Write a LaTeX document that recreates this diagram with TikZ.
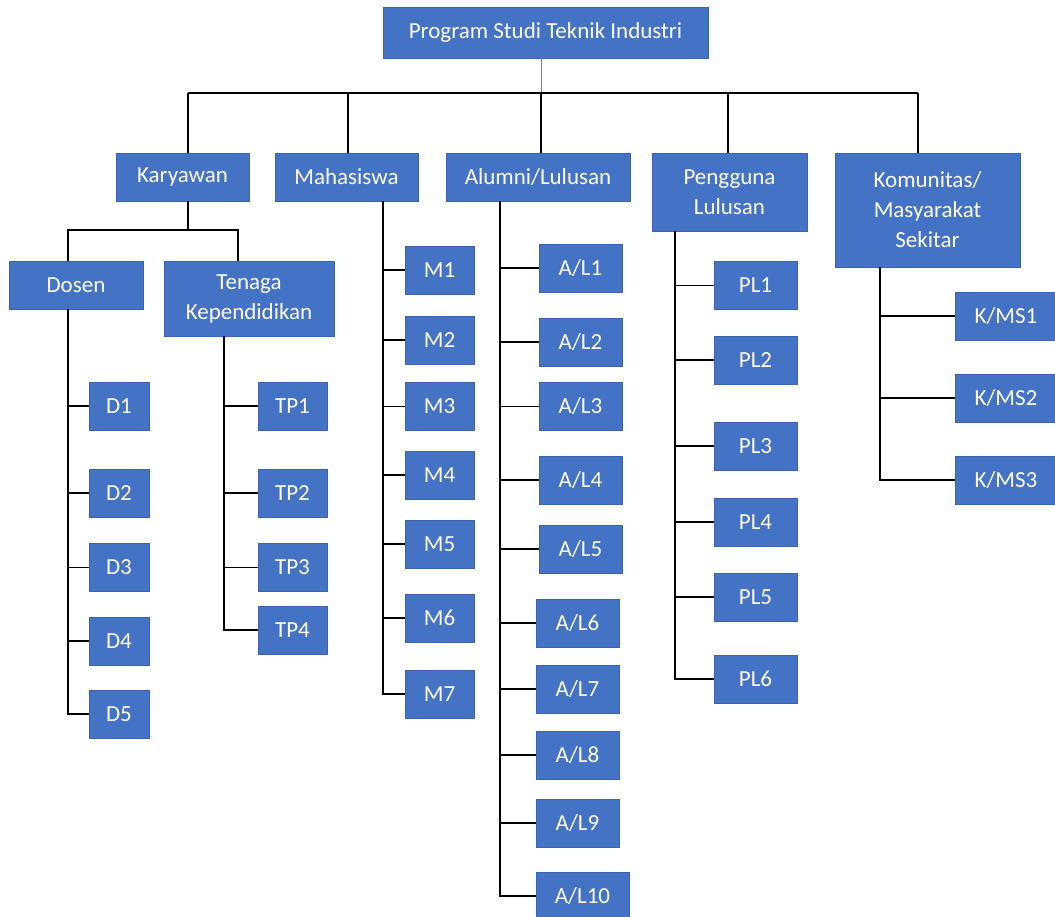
\documentclass[tikz,border=0pt]{standalone}
\usepackage{fontspec}
\setmainfont{Carlito}
\definecolor{boxblue}{HTML}{4472C4}
\definecolor{boxedge}{HTML}{3A64AE}
\definecolor{toplinec}{HTML}{5B8BD0}
\begin{document}
\begin{tikzpicture}[x=1pt,y=-1pt,
  box/.style={draw=boxedge, fill=boxblue, text=white, line width=0.8pt, inner sep=0pt,
    align=center, font=\fontsize{23}{30}\selectfont},
  sm/.style={box, minimum width=#1, minimum height=48pt},
  conn/.style={draw=black, line width=1.5pt},
  topconn/.style={draw=toplinec, line width=1pt}]
\useasboundingbox (0,0) rectangle (1055,917);
\fill[white] (0,0) rectangle (1055,917);
\clip (0,0) rectangle (1055,917);

% top
\node[box, minimum width=325pt, minimum height=51pt] (top) at (545.5,32.5) {Program Studi Teknik Industri};

% level 1
\node[sm=133pt] (kar) at (182.5,177) {Karyawan};
\node[sm=143pt] (mah) at (346.5,177) {Mahasiswa};
\node[sm=184pt] (alu) at (538,177) {Alumni/Lulusan};
\node[box, minimum width=155pt, minimum height=78pt] (pen) at (729.5,192) {Pengguna\\Lulusan};
\node[box, minimum width=185pt, minimum height=114pt] (kom) at (927.5,210) {Komunitas/\\Masyarakat\\Sekitar};

% level 2
\node[sm=134pt] (dos) at (76,285) {Dosen};
\node[box, minimum width=170pt, minimum height=75pt] (ten) at (249,298.5) {Tenaga\\Kependidikan};

% Dosen children
\node[sm=60pt] (d1) at (119,406) {D1};
\node[sm=60pt] (d2) at (119,493) {D2};
\node[sm=60pt] (d3) at (119,567.5) {D3};
\node[sm=60pt] (d4) at (119,641) {D4};
\node[sm=60pt] (d5) at (119,714) {D5};

% Tenaga children
\node[sm=69pt] (t1) at (292.5,406) {TP1};
\node[sm=69pt] (t2) at (292.5,493) {TP2};
\node[sm=69pt] (t3) at (292.5,567.5) {TP3};
\node[sm=69pt] (t4) at (292.5,630) {TP4};

% Mahasiswa children
\node[sm=69pt] (m1) at (439.5,270) {M1};
\node[sm=69pt] (m2) at (439.5,340) {M2};
\node[sm=69pt] (m3) at (439.5,406.5) {M3};
\node[sm=69pt] (m4) at (439.5,475) {M4};
\node[sm=69pt] (m5) at (439.5,544) {M5};
\node[sm=69pt] (m6) at (439.5,618) {M6};
\node[sm=69pt] (m7) at (439.5,694) {M7};

% Alumni children
\node[sm=83pt] (a1) at (580.5,268) {A/L1};
\node[sm=83pt] (a2) at (580.5,342) {A/L2};
\node[sm=83pt] (a3) at (580.5,406.5) {A/L3};
\node[sm=83pt] (a4) at (580.5,480) {A/L4};
\node[sm=83pt] (a5) at (580.5,549) {A/L5};
\node[sm=83pt] (a6) at (577.5,623) {A/L6};
\node[sm=83pt] (a7) at (577.5,689) {A/L7};
\node[sm=83pt] (a8) at (577.5,755) {A/L8};
\node[sm=83pt] (a9) at (577.5,823) {A/L9};
\node[sm=93pt] (a10) at (582.5,896) {A/L10};

% Pengguna children
\node[sm=83pt] (p1) at (755.5,285.5) {PL1};
\node[sm=83pt] (p2) at (755.5,360) {PL2};
\node[sm=83pt] (p3) at (755.5,446) {PL3};
\node[sm=83pt] (p4) at (755.5,522) {PL4};
\node[sm=83pt] (p5) at (755.5,597) {PL5};
\node[sm=83pt] (p6) at (755.5,679) {PL6};

% Komunitas children
\node[sm=102pt] (k1) at (1006,316) {K/MS1};
\node[sm=102pt] (k2) at (1006,398) {K/MS2};
\node[sm=102pt] (k3) at (1006,480) {K/MS3};

% bus
\coordinate (bk) at (188,93);
\coordinate (bm) at (348,93);
\coordinate (ba) at (541,93);
\coordinate (bp) at (728,93);
\coordinate (bc) at (918,93);
\draw[topconn] (top.south -| ba) -- (ba);
\draw[conn] (bk) -- (bc);
\draw[conn] (bk) -- (bk |- kar.north);
\draw[conn] (bm) -- (bm |- mah.north);
\draw[conn] (ba) -- (ba |- alu.north);
\draw[conn] (bp) -- (bp |- pen.north);
\draw[conn] (bc) -- (bc |- kom.north);

% Karyawan split
\coordinate (kl) at (68,230);
\coordinate (kr) at (238,230);
\draw[conn] (bk |- kar.south) -- (bk |- kl);
\draw[conn] (kl |- dos.north) -- (kl) -- (kr) -- (kr |- ten.north);

% spines
\coordinate (sd) at (68,0);
\coordinate (st) at (224,0);
\coordinate (sm) at (383,0);
\coordinate (sa) at (500,0);
\coordinate (sp) at (675,0);
\coordinate (sk) at (880,0);

\draw[conn] (sd |- dos.south) |- (d5.west);
\foreach \n in {d1,d2,d3,d4} \draw[conn] (sd |- \n.west) -- (\n.west);

\draw[conn] (st |- ten.south) |- (t4.west);
\foreach \n in {t1,t2,t3} \draw[conn] (st |- \n.west) -- (\n.west);

\draw[conn] (sm |- mah.south) |- (m7.west);
\foreach \n in {m1,m2,m3,m4,m5,m6} \draw[conn] (sm |- \n.west) -- (\n.west);

\draw[conn] (sa |- alu.south) |- (a10.west);
\foreach \n in {a1,a2,a3,a4,a5,a6,a7,a8,a9} \draw[conn] (sa |- \n.west) -- (\n.west);

\draw[conn] (sp |- pen.south) |- (p6.west);
\foreach \n in {p1,p2,p3,p4,p5} \draw[conn] (sp |- \n.west) -- (\n.west);

\draw[conn] (sk |- kom.south) |- (k3.west);
\foreach \n in {k1,k2} \draw[conn] (sk |- \n.west) -- (\n.west);
\end{tikzpicture}
\end{document}
